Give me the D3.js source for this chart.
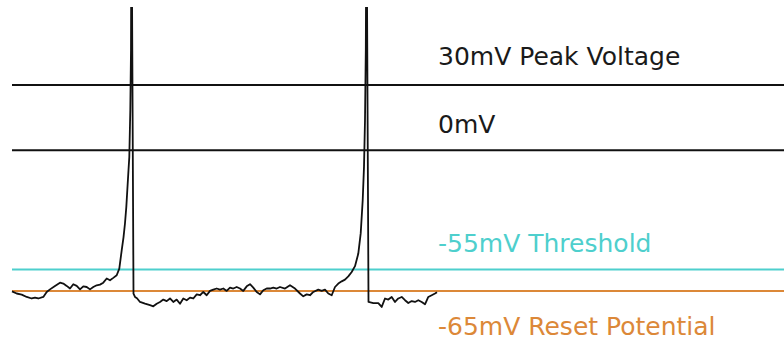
<!DOCTYPE html>
<html>
<head>
<meta charset="utf-8">
<script src="https://cdn.jsdelivr.net/npm/d3@7/dist/d3.min.js"></script>
<style>
  html, body { margin: 0; padding: 0; background: #fff; }
  svg { display: block; }
  text { font-family: "DejaVu Sans", Verdana, sans-serif; }
</style>
</head>
<body>
<svg id="chart" width="784" height="341"></svg>
<script>
// Membrane potential trace (time in ms, voltage in mV)
const timeMs = [
  0, 4.7, 9.7, 14.7, 19.7, 23, 26.3, 31.3, 34.7, 38, 43, 48, 51.3, 54.7, 58, 61.3, 64.7, 68, 71.3, 74.7,
  78, 81.3, 84.7, 88, 91.3, 94.7, 98, 101.3, 104.7, 107.3, 109.7, 111.5, 113, 114.3, 115.3, 116.5, 117.3, 118.3, 119, 119.5,
  121.5, 123, 125, 128, 133, 138, 141.3, 144.7, 148, 151.3, 154.7, 158, 161.3, 164.7, 168, 171.3, 174.7, 178, 181.3, 184.7,
  188, 191.3, 194.7, 198, 201.3, 204.7, 208, 211.3, 214.7, 218, 221.3, 224.7, 228, 231.3, 234.7, 238, 241.3, 244.7, 248, 251.3,
  254.7, 258, 261.3, 264.7, 268, 273, 278, 283, 288, 291.3, 294.7, 298, 301.3, 306.3, 309.7, 313, 316.3, 319.7, 323, 326.3,
  329.7, 333, 336.3, 339.7, 343, 346.3, 348.7, 350.7, 352, 353, 353.8, 354.5,
  356.5, 361.3, 366.3, 369.7, 373, 376.3, 379.7, 383, 386.3, 389.7, 393, 396.3, 399.7, 403, 406.3, 409.7, 413, 416.3, 419.7, 423, 425
];
const voltageMv = [
  -65.1, -66.1, -66.6, -67.7, -68.4, -68.0, -68.4, -67.7, -65.4, -64.2, -62.6, -61.1, -61.5, -62.6, -63.8, -61.8, -62.6, -64.2, -62.8, -63.1,
  -64.2, -63.1, -62.3, -62.0, -61.1, -59.2, -60.0, -58.9, -57.7, -54.6, -46.2, -40.2, -33.7, -26.3, -18.5, -9.2, -3.2, 18.5, 46, 120,
  -66.2, -67.7, -68.3, -70.0, -70.8, -71.5, -72.0, -70.8, -70.0, -68.9, -69.6, -68.4, -70.0, -68.9, -70.8, -68.4, -69.2, -68.0, -68.4, -66.5,
  -66.9, -65.4, -66.9, -64.9, -64.3, -63.8, -64.3, -63.8, -64.9, -63.4, -63.8, -63.1, -63.8, -64.9, -62.8, -61.8, -63.4, -65.4, -66.5, -64.6,
  -63.8, -63.8, -63.4, -63.8, -63.1, -63.8, -62.3, -63.8, -66.1, -67.4, -66.5, -66.9, -65.4, -64.3, -64.9, -64.3, -66.1, -66.9, -63.1, -61.5,
  -60.5, -59.7, -58.2, -56.2, -53.5, -47.7, -38.4, -23.1, -7.7, 13.8, 46, 120,
  -70.0, -70.5, -70.5, -72.3, -68.4, -68.9, -67.7, -70.0, -68.4, -67.7, -69.2, -70.5, -69.6, -70.0, -69.2, -70.0, -71.1, -67.7, -66.9, -66.1, -65.5
];

// Reference levels
const refValues = [30, 0, -55, -65];
const refLabels = ["30mV Peak Voltage", "0mV", "-55mV Threshold", "-65mV Reset Potential"];
const refColors = ["#111111", "#111111", "#4ecfcd", "#dc8838"];
const labelOffsets = [-20, -17, -17, 44];

const width = 784, height = 341;
const svg = d3.select("#chart");

const x = d3.scaleLinear().domain([0, 772]).range([12, 784]);
const y = d3.scaleLinear().domain([-88, 66]).range([341, 7]);

svg.append("defs").append("clipPath").attr("id", "plot-clip")
  .append("rect").attr("x", 0).attr("y", y(66)).attr("width", width).attr("height", height - y(66));

// Horizontal reference lines
svg.selectAll("line.ref").data(refValues).join("line")
  .attr("class", "ref")
  .attr("x1", x(0)).attr("x2", x(772))
  .attr("y1", d => y(d)).attr("y2", d => y(d))
  .attr("stroke", (d, i) => refColors[i])
  .attr("stroke-width", 2);

// Membrane potential trace
const trace = timeMs.map((t, i) => [t, voltageMv[i]]);
svg.append("path")
  .datum(trace)
  .attr("clip-path", "url(#plot-clip)")
  .attr("fill", "none")
  .attr("stroke", "#111")
  .attr("stroke-width", 1.8)
  .attr("stroke-linejoin", "round")
  .attr("d", d3.line().x(d => x(d[0])).y(d => y(d[1])));

// Labels
svg.selectAll("text.lbl").data(refValues).join("text")
  .attr("class", "lbl")
  .attr("x", 438)
  .attr("y", (d, i) => y(d) + labelOffsets[i])
  .attr("fill", (d, i) => i < 2 ? "#1a1a1a" : refColors[i])
  .attr("font-size", 25)
  .text((d, i) => refLabels[i]);
</script>
</body>
</html>
